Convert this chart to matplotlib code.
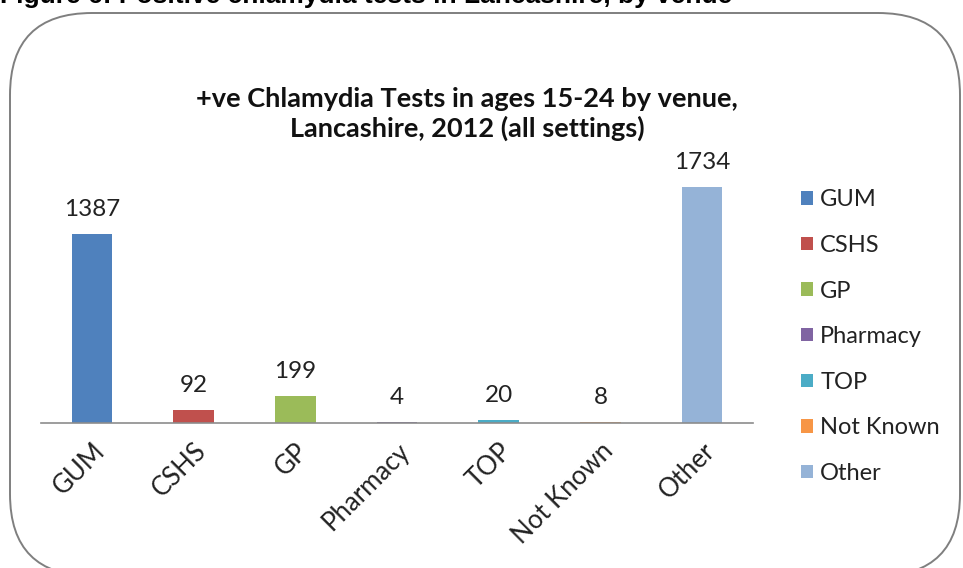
import matplotlib
matplotlib.use("Agg")
import matplotlib.pyplot as plt
import matplotlib.transforms as mtransforms
from matplotlib.patches import FancyBboxPatch

venues = ["GUM", "CSHS", "GP", "Pharmacy", "TOP", "Not Known", "Other"]
positives = [1387, 92, 199, 4, 20, 8, 1734]
colours = ["#4F81BD", "#C0504D", "#9BBB59", "#8064A2", "#4BACC6", "#F79646", "#95B3D7"]

W, H, DPI = 963, 568, 100
FONT = "Lato"
TEXT = "#222222"

fig = plt.figure(figsize=(W / DPI, H / DPI), dpi=DPI)
fig.patch.set_facecolor("white")

# rounded chart-area frame, drawn in pixel coordinates
frame = FancyBboxPatch(
    (10, -8), 950, H - 13 + 8,
    boxstyle="round,pad=0,rounding_size=82",
    transform=mtransforms.IdentityTransform(),
    facecolor="none", edgecolor="#7f7f7f", linewidth=1.4,
)
fig.add_artist(frame)

# report heading, cut off along the top edge
fig.text(0.0, (H - 3) / H, "Figure 6: Positive chlamydia tests in Lancashire, by venue",
         family="Liberation Sans", fontweight="bold", fontsize=19,
         ha="left", va="baseline", color="black")

ax = fig.add_axes([41 / W, (H - 423) / H, (753 - 41) / W, 272.6 / H])
x = list(range(len(venues)))
bars = ax.bar(x, positives, width=0.4, color=colours, label=venues)
ax.set_xlim(-0.5, len(venues) - 0.5)
ax.set_ylim(0, 2000)

for rect, val in zip(bars, positives):
    ax.annotate(str(val), (rect.get_x() + rect.get_width() / 2, val),
                xytext=(0, 14), textcoords="offset pixels",
                ha="center", va="bottom", family=FONT, fontsize=17.5, color=TEXT)

for side in ("top", "right", "left"):
    ax.spines[side].set_visible(False)
ax.spines["bottom"].set_color("#8c8c8c")
ax.spines["bottom"].set_linewidth(1.2)
ax.set_yticks([])
ax.set_xticks(x)
ax.set_xticklabels(venues, rotation=45, ha="right", rotation_mode="anchor",
                   family=FONT, fontsize=18.5, color=TEXT)
ax.tick_params(axis="x", length=0, pad=11)
ax.patch.set_visible(False)

fig.text(467 / W, (H - 114) / H,
         "+ve Chlamydia Tests in ages 15-24 by venue,\nLancashire, 2012 (all settings)",
         family=FONT, fontweight="bold", fontsize=19.5, ha="center", va="center",
         linespacing=1.25, color="#111111")

leg = fig.legend(handles=list(bars), labels=venues, loc="upper left",
                 bbox_to_anchor=(792 / W, (H - 180) / H), frameon=False,
                 prop={"family": FONT, "size": 17}, handlelength=0.5,
                 handleheight=0.5, handletextpad=0.3, labelspacing=1.04,
                 borderaxespad=0, labelcolor=TEXT)

fig.savefig("out.png", dpi=DPI, facecolor="white")
